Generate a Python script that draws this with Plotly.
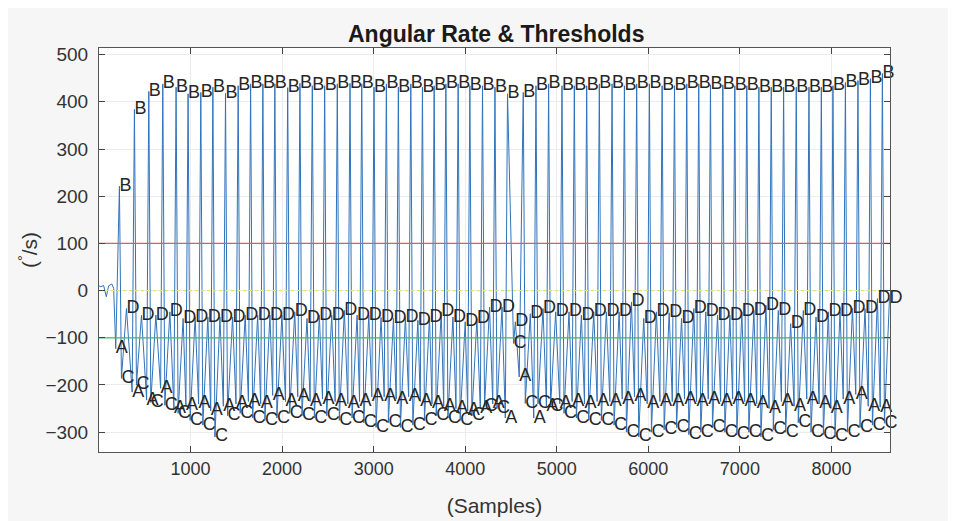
import plotly.graph_objects as go

# ---- data (samples, deg/s) ----
pre_t = [0, 20, 50, 80, 105, 140, 160]
pre_v = [10, 8, 11, -13, 10, 14, 5]

b_t = [223, 387, 544, 697, 842, 973, 1112, 1244, 1382, 1520, 1656, 1790, 1921, 2061, 2195, 2330,
       2465, 2603, 2742, 2870, 3004, 3139, 3270, 3406, 3533, 3661, 3789, 3923, 4051, 4189, 4325,
       4462, 4634, 4773, 4911, 5057, 5192, 5327, 5465, 5604, 5739, 5873, 6012, 6151, 6286, 6420,
       6551, 6679, 6814, 6945, 7076, 7208, 7343, 7478, 7616, 7755, 7890, 8017, 8153, 8290, 8426, 8557]
b_v = [221, 384, 422, 438, 431, 417, 420, 431, 418, 434, 438, 438, 438, 430, 439, 434,
       434, 438, 439, 438, 431, 438, 431, 438, 431, 434, 438, 438, 434, 434, 431,
       417, 420, 434, 438, 434, 434, 434, 438, 438, 434, 438, 438, 434, 434, 438,
       438, 436, 436, 434, 434, 431, 431, 431, 431, 431, 431, 434, 441, 445, 449, 460]

a_t = [183, 362, 520, 673, 818, 949, 1088, 1220, 1358, 1496, 1632, 1766, 1897, 2037, 2171, 2306,
       2441, 2579, 2718, 2846, 2980, 3115, 3246, 3382, 3509, 3637, 3765, 3899, 4027, 4165, 4301,
       4438, 4590, 4749, 4887, 5033, 5168, 5303, 5441, 5580, 5715, 5849, 5988, 6127, 6262, 6396,
       6527, 6655, 6790, 6921, 7052, 7184, 7319, 7454, 7592, 7731, 7866, 7993, 8129, 8266, 8402, 8533]
a_v = [-123, -215, -232, -207, -250, -243, -240, -255, -245, -240, -235, -240, -222, -235, -225, -235,
       -230, -235, -240, -235, -225, -225, -230, -225, -235, -240, -245, -250, -255, -250, -240,
       -270, -183, -270, -245, -240, -235, -240, -235, -235, -230, -225, -240, -235, -235, -230,
       -235, -230, -235, -230, -235, -240, -250, -235, -245, -230, -240, -250, -230, -220, -245, -247]

c_t = [245, 409, 566, 719, 864, 995, 1134, 1266, 1404, 1542, 1678, 1812, 1943, 2083, 2217, 2352,
       2487, 2625, 2764, 2892, 3026, 3161, 3292, 3428, 3555, 3683, 3811, 3945, 4073, 4211, 4347,
       4528, 4656, 4795, 4933, 5079, 5214, 5349, 5487, 5626, 5761, 5895, 6034, 6173, 6308, 6442,
       6573, 6701, 6836, 6967, 7098, 7230, 7365, 7500, 7638, 7777, 7912, 8039, 8175, 8312, 8448, 8579]
c_v = [-186, -200, -237, -243, -260, -275, -285, -310, -265, -260, -270, -275, -270, -260, -265, -270,
       -265, -275, -270, -280, -290, -280, -290, -285, -275, -265, -270, -275, -265, -245, -250,
       -112, -239, -240, -245, -260, -270, -275, -275, -285, -300, -310, -300, -295, -290, -305,
       -300, -290, -300, -305, -300, -310, -295, -300, -280, -300, -305, -310, -300, -290, -285, -281]

d_t = [300, 464, 621, 774, 919, 1050, 1189, 1321, 1459, 1597, 1733, 1867, 1998, 2138, 2272, 2407,
       2542, 2680, 2819, 2947, 3081, 3216, 3347, 3483, 3610, 3738, 3866, 4000, 4128, 4266, 4402,
       4548, 4711, 4850, 4988, 5134, 5269, 5404, 5542, 5681, 5816, 5950, 6089, 6228, 6363, 6497,
       6628, 6756, 6891, 7022, 7153, 7285, 7420, 7555, 7693, 7832, 7967, 8094, 8230, 8367, 8503, 8634]
d_v = [-38, -52, -52, -45, -59, -56, -56, -56, -56, -52, -52, -52, -52, -45, -59, -52,
       -52, -42, -52, -52, -57, -59, -56, -63, -56, -45, -56, -66, -59, -35, -35,
       -66, -49, -38, -45, -45, -52, -45, -45, -45, -24, -59, -45, -47, -59, -38,
       -45, -52, -52, -45, -42, -31, -42, -70, -42, -56, -45, -45, -38, -38, -17, -17]

thr_high = 100
thr_zero = 0
thr_low = -100

x_ticks = [1000, 2000, 3000, 4000, 5000, 6000, 7000, 8000]
y_ticks = [-300, -200, -100, 0, 100, 200, 300, 400, 500]
x_range = [0, 8640]
y_range = [-342, 514]

# ---- build the signal polyline from the read key points ----
sig_x = list(pre_t)
sig_y = list(pre_v)
for i in range(len(b_t)):
    sig_x += [a_t[i], b_t[i], c_t[i], d_t[i]]
    sig_y += [a_v[i], b_v[i], c_v[i], d_v[i]]

FONT = "Liberation Sans, Arial, Helvetica, sans-serif"

fig = go.Figure()
fig.add_trace(go.Scatter(x=sig_x, y=sig_y, mode="lines",
                         line=dict(color="#3173bb", width=1), hoverinfo="skip", showlegend=False))

for yv, col, dash in [(thr_high, "#e4585c", "solid"), (thr_zero, "#e6e36e", "dot"), (thr_low, "#4db36b", "solid")]:
    fig.add_trace(go.Scatter(x=x_range, y=[yv, yv], mode="lines",
                             line=dict(color=col, width=1.2, dash=dash), hoverinfo="skip", showlegend=False))

for lab, xs, ys in [("A", a_t, a_v), ("B", b_t, b_v), ("C", c_t, c_v), ("D", d_t, d_v)]:
    fig.add_trace(go.Scatter(x=xs, y=ys, mode="text", text=[lab] * len(xs),
                             textposition="middle right",
                             textfont=dict(family=FONT, size=18, color="#262626"),
                             hoverinfo="skip", showlegend=False, cliponaxis=False))

fig.update_layout(
    width=948, height=513,
    margin=dict(l=91, r=66, t=40, b=69, autoexpand=False),
    paper_bgcolor="#f6f6f6", plot_bgcolor="#ffffff",
    title=dict(text="<b>Angular Rate & Thresholds</b>", x=0.515, xanchor="center", y=0.95, yanchor="middle",
               font=dict(family=FONT, size=23, color="#1a1a1a")),
    font=dict(family=FONT, color="#333333"),
)
fig.update_xaxes(range=x_range, tickvals=x_ticks, ticks="inside", ticklen=6, tickcolor="#444",
                 showline=True, linecolor="#555", mirror="ticks", showgrid=True, gridcolor="#ececec",
                 zeroline=False, tickfont=dict(size=18, color="#333"), automargin=False,
                 title=dict(text="(Samples)", font=dict(size=21, color="#333"), standoff=20))
fig.update_yaxes(range=y_range, tickvals=y_ticks, ticks="inside", ticklen=6, tickcolor="#444",
                 showline=True, linecolor="#555", mirror="ticks", showgrid=True, gridcolor="#ececec",
                 zeroline=False, tickfont=dict(size=19, color="#333"), ticklabelstandoff=6, automargin=False,
                 title=dict(text="(<sup>°</sup>/s)", font=dict(size=21, color="#333"), standoff=2))

fig.write_html("out.html")
